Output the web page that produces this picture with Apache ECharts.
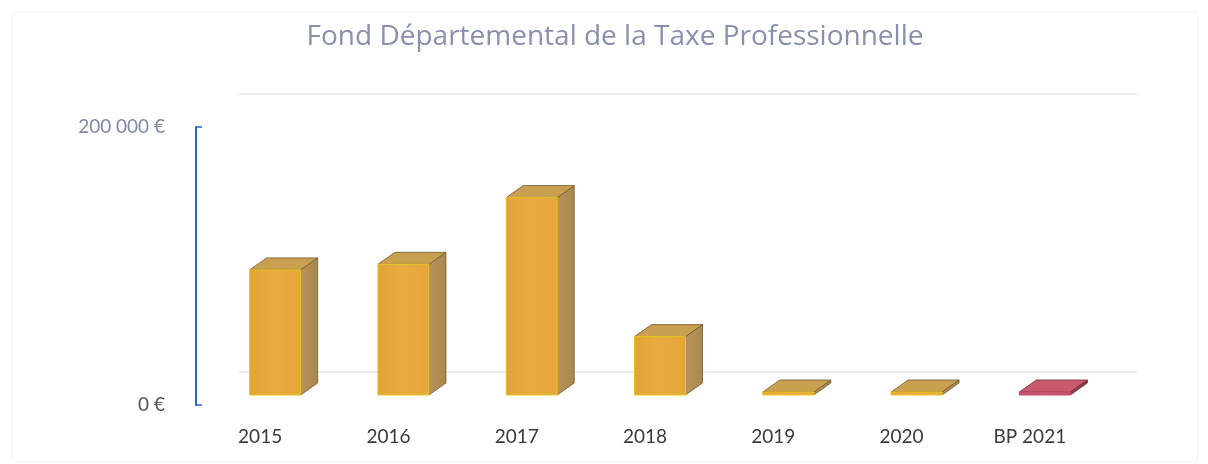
<!DOCTYPE html>
<html>
<head>
<meta charset="utf-8">
<script src="https://cdn.jsdelivr.net/npm/echarts@6/dist/echarts.min.js"></script>
<style>
  html, body { margin: 0; padding: 0; background: #ffffff; }
  #chart { width: 1208px; height: 464px; }
</style>
</head>
<body>
<div id="chart"></div>
<script>
// Fonds départemental de péréquation de la taxe professionnelle, par exercice
const categories = ['2015', '2016', '2017', '2018', '2019', '2020', 'BP 2021'];
const amounts = [90000, 94000, 142000, 42000, 0, 0, 0];
const axisMin = 0;
const axisMax = 200000;
const axisStep = 200000;
const chartTitle = 'Fond Départemental de la Taxe Professionnelle';

// oblique projection: column set back from the floor's front edge, and its own depth
const SET_BACK = [15, -10];
const DEPTH = [17, -12];
const BAR_W = 51;
const MIN_SLAB = 3;

const palettes = {
  actual: {
    front: ['#E3A336', '#EAAC42', '#E5A63B'],
    side: ['#B8935A', '#A8884E'],
    top: '#C9A050',
    edge: '#6E5832',
    base: '#E9C51F'
  },
  budget: {
    front: ['#C24E63', '#CC5B6F', '#C25065'],
    side: ['#9A4152', '#8A3848'],
    top: '#C95A6E',
    edge: '#6A2A38',
    base: '#C0506A'
  }
};

function euro(v) {
  return String(v).replace(/\B(?=(\d{3})+(?!\d))/g, ' ') + ' €';
}

function renderColumn(params, api) {
  const idx = api.value(0);
  const val = api.value(1);
  const pTop = api.coord([idx, val]);
  const pBase = api.coord([idx, 0]);
  const cx = pTop[0] + SET_BACK[0];
  const x0 = cx - BAR_W / 2;
  const x1 = cx + BAR_W / 2;
  const yb = pBase[1] + SET_BACK[1];
  let yt = pTop[1] + SET_BACK[1];
  if (yb - yt < MIN_SLAB) yt = yb - MIN_SLAB;
  const dx = DEPTH[0], dy = DEPTH[1];
  const pal = categories[idx].indexOf('BP') === 0 ? palettes.budget : palettes.actual;

  const frontFill = new echarts.graphic.LinearGradient(0, 0, 1, 0, [
    { offset: 0, color: pal.front[0] },
    { offset: 0.5, color: pal.front[1] },
    { offset: 1, color: pal.front[2] }
  ]);
  const sideFill = new echarts.graphic.LinearGradient(0, 0, 1, 0, [
    { offset: 0, color: pal.side[0] },
    { offset: 1, color: pal.side[1] }
  ]);

  return {
    type: 'group',
    children: [
      {
        type: 'polygon',
        shape: { points: [[x1, yb], [x1 + dx, yb + dy], [x1 + dx, yt + dy], [x1, yt]] },
        style: { fill: sideFill, stroke: pal.edge, lineWidth: 0.8 }
      },
      {
        type: 'polygon',
        shape: { points: [[x0, yt], [x1, yt], [x1 + dx, yt + dy], [x0 + dx, yt + dy]] },
        style: { fill: pal.top, stroke: pal.edge, lineWidth: 0.8 }
      },
      {
        type: 'rect',
        shape: { x: x0, y: yt, width: BAR_W, height: yb - yt },
        style: { fill: frontFill, stroke: pal.base, lineWidth: 1 }
      }
    ]
  };
}

const chart = echarts.init(document.getElementById('chart'), null, { renderer: 'canvas' });

chart.setOption({
  backgroundColor: '#ffffff',
  animation: false,
  graphic: [
    {
      type: 'rect',
      shape: { x: 12, y: 12, width: 1186, height: 450, r: 6 },
      style: { fill: 'none', stroke: '#f0f0f0', lineWidth: 1 },
      z: 0
    },
    {
      type: 'text',
      x: 615,
      y: 37,
      style: {
        text: chartTitle,
        textAlign: 'center',
        textVerticalAlign: 'middle',
        fontFamily: 'Open Sans',
        fontSize: 28,
        fill: '#8A90AC'
      }
    }
  ],
  grid: [
    // front edge of the floor, carrying the value axis and the category labels
    { left: 196, top: 127, width: 898, height: 278 },
    // back wall, carrying the gridlines
    { left: 239, top: 94, width: 898, height: 278 }
  ],
  xAxis: [
    {
      type: 'category',
      gridIndex: 0,
      data: categories,
      axisLine: { show: false },
      axisTick: { show: false },
      axisLabel: {
        margin: 22,
        fontFamily: 'Lato',
        fontSize: 19,
        color: '#3A3A3A'
      }
    },
    {
      type: 'category',
      gridIndex: 1,
      data: categories,
      show: false
    }
  ],
  yAxis: [
    {
      type: 'value',
      gridIndex: 0,
      min: axisMin,
      max: axisMax,
      interval: axisStep,
      axisLine: { show: true, lineStyle: { color: '#2A66C8', width: 2 } },
      axisTick: { show: true, inside: true, length: 6, lineStyle: { color: '#2A66C8', width: 1.5 } },
      splitLine: { show: false },
      axisLabel: {
        margin: 31,
        fontFamily: 'Lato',
        fontSize: 19,
        color: function (v) { return v > 0 ? '#8088A8' : '#555555'; },
        formatter: euro
      }
    },
    {
      type: 'value',
      gridIndex: 1,
      min: axisMin,
      max: axisMax,
      interval: axisStep,
      axisLine: { show: false },
      axisTick: { show: false },
      axisLabel: { show: false },
      splitLine: { show: true, lineStyle: { color: '#E8E8E8', width: 1.5 } }
    }
  ],
  series: [
    {
      type: 'custom',
      xAxisIndex: 0,
      yAxisIndex: 0,
      renderItem: renderColumn,
      encode: { x: 0, y: 1 },
      data: amounts.map(function (v, i) { return [i, v]; }),
      z: 5
    }
  ]
});
</script>
</body>
</html>
